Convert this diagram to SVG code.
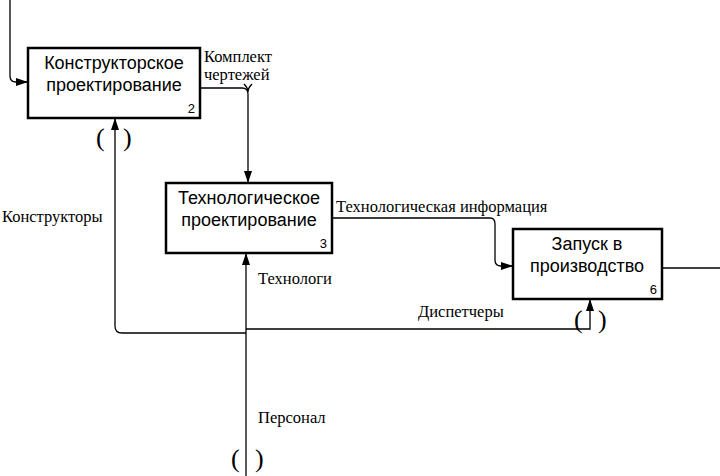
<svg xmlns="http://www.w3.org/2000/svg" width="720" height="476" viewBox="0 0 720 476">
<defs>
<marker id="a" markerWidth="12" markerHeight="8" refX="12" refY="4" orient="auto" markerUnits="userSpaceOnUse"><path d="M0,0 L12,4 L0,8 z" fill="#000"/></marker>
<style>
.box{fill:#fff;stroke:#000;stroke-width:2.5}
.t{font-family:"Liberation Sans",Arial,sans-serif;font-size:18px;text-anchor:middle}
.n{font-family:"Liberation Sans",Arial,sans-serif;font-size:13px;text-anchor:end}
.l{font-family:"Liberation Serif","Times New Roman",serif;font-size:16.5px}
.p{font-family:"Liberation Serif","Times New Roman",serif;font-size:26px}
.c{fill:none;stroke:#000;stroke-width:1.3}
</style>
</defs>
<g id="connectors">
<path class="c" d="M10,0 V76 Q10,82 16,82 H28" marker-end="url(#a)"/>
<path class="c" d="M200,88 H242 Q248,88 248,94 V183" marker-end="url(#a)"/>
<path class="c" d="M244,84 Q248,88 248,92 Q248,88 252,84"/>
<path class="c" d="M332,218 H490 Q495,218 495,224 V260 Q495,266 501,266 H513" marker-end="url(#a)"/>
<path class="c" d="M662,268 H720"/>
<path class="c" d="M246,476 V253" marker-end="url(#a)"/>
<path class="c" d="M246,333 H122 Q115,333 115,326 V118" marker-end="url(#a)"/>
<path class="c" d="M246,329 H590 V299" marker-end="url(#a)"/>
<text class="p" x="96" y="146">(</text><text class="p" x="123" y="146">)</text>
<text class="p" x="231" y="467">(</text><text class="p" x="255" y="467">)</text>
<text class="p" x="574" y="328">(</text><text class="p" x="598" y="328">)</text>
<text class="l" x="204" y="62">Комплект</text>
<text class="l" x="204" y="80">чертежей</text>
<text class="l" x="2" y="222">Конструкторы</text>
<text class="l" x="336" y="212">Технологическая информация</text>
<text class="l" x="258" y="284">Технологи</text>
<text class="l" x="418" y="317">Диспетчеры</text>
<text class="l" x="258" y="423">Персонал</text>
</g>
<g id="node2">
<rect class="box" x="28" y="48" width="172" height="70"/>
<text class="t" x="114" y="69">Конструкторское</text>
<text class="t" x="114" y="91">проектирование</text>
<text class="n" x="195" y="113">2</text>
</g>
<g id="node3">
<rect class="box" x="166" y="183" width="166" height="70"/>
<text class="t" x="249" y="204">Технологическое</text>
<text class="t" x="249" y="226">проектирование</text>
<text class="n" x="327" y="248">3</text>
</g>
<g id="node6">
<rect class="box" x="513" y="229" width="149" height="70"/>
<text class="t" x="587" y="250">Запуск в</text>
<text class="t" x="587" y="272">производство</text>
<text class="n" x="657" y="294">6</text>
</g>
</svg>
